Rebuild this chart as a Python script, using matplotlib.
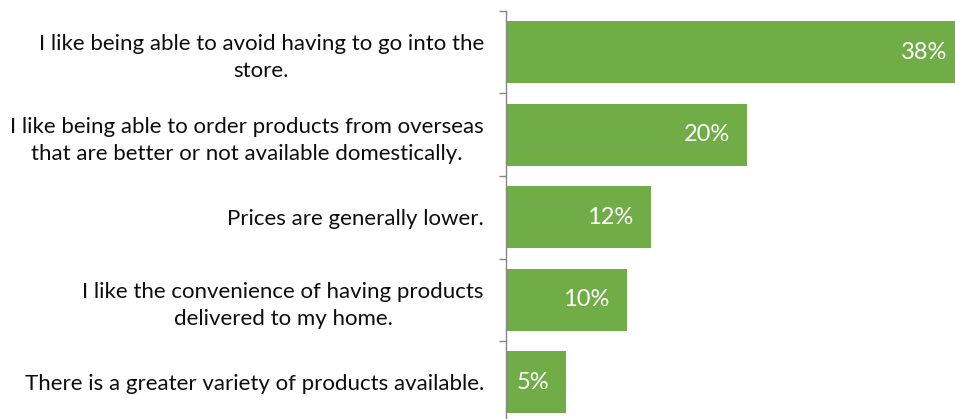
import matplotlib
matplotlib.use("Agg")
import matplotlib.pyplot as plt
import numpy as np

categories = [
    "I like being able to avoid having to go into the\nstore.",
    "I like being able to order products from overseas\nthat are better or not available domestically.",
    "Prices are generally lower.",
    "I like the convenience of having products\ndelivered to my home.",
    "There is a greater variety of products available.",
]
values = [38, 20, 12, 10, 5]

plt.rcParams["font.family"] = ["Lato", "DejaVu Sans"]

W, H = 955, 419
fig = plt.figure(figsize=(W / 100, H / 100), dpi=100)

# axes placed in pixel terms; the plotting area runs a little past the figure edges
left_px, top_px = 506, 11
x_max = 40.0
px_per_unit = 12.07
width_px = x_max * px_per_unit
height_px = 412.5
ax = fig.add_axes([left_px / W, 1 - (top_px + height_px) / H, width_px / W, height_px / H])

green = "#70AD47"
y = np.arange(len(categories))
ax.barh(y, values, height=0.75, color=green, zorder=2)

ax.set_xlim(0, x_max)
ax.set_ylim(len(categories) - 0.5, -0.5)

for v, yi in zip(values, y):
    ax.annotate(f"{v}%", xy=(v, yi), xytext=(-12.5, 0), textcoords="offset points",
                ha="right", va="center", color="white", fontsize=17,
                annotation_clip=False)

ax.set_yticks(y)
ax.set_yticklabels(categories, fontsize=16, color="#0d0d0d",
                   multialignment="center", linespacing=1.45)
ax.tick_params(axis="y", which="major", length=0, pad=16)
ax.set_yticks(np.arange(-0.5, len(categories) + 0.5, 1), minor=True)
ax.tick_params(axis="y", which="minor", length=5, width=1, color="#868686")
ax.set_xticks([])

for s in ["top", "right", "bottom"]:
    ax.spines[s].set_visible(False)
ax.spines["left"].set_color("#868686")
ax.spines["left"].set_linewidth(1)

fig.savefig("out.png", dpi=100)
